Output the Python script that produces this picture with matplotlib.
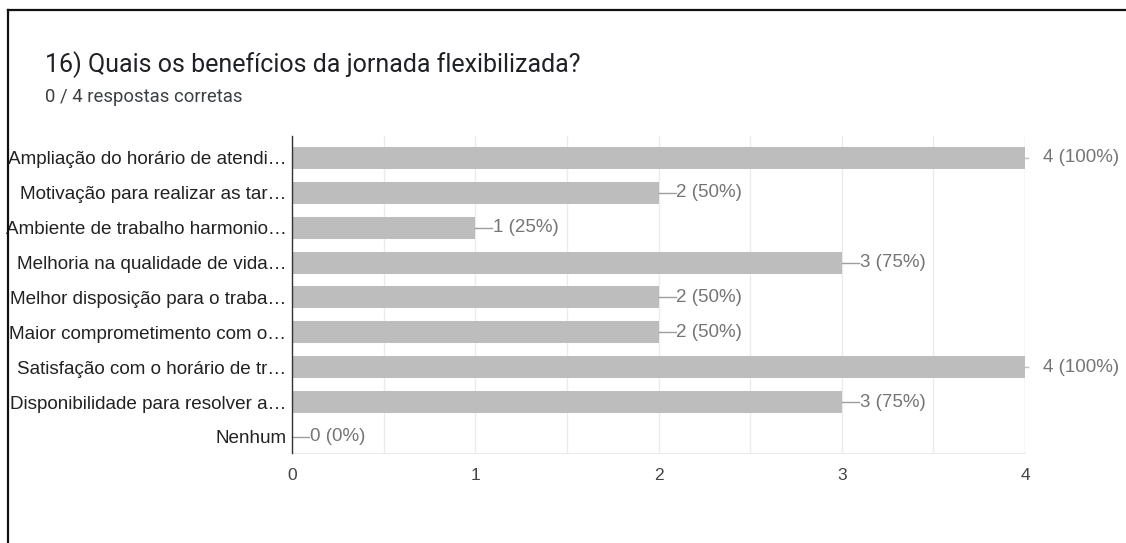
import matplotlib
matplotlib.use("Agg")
import matplotlib.pyplot as plt
from matplotlib.lines import Line2D
import numpy as np

title = "16) Quais os benefícios da jornada flexibilizada?"
subtitle = "0 / 4 respostas corretas"
categories = [
    "Ampliação do horário de atendi…",
    "Motivação para realizar as tar…",
    "Ambiente de trabalho harmonio…",
    "Melhoria na qualidade de vida…",
    "Melhor disposição para o traba…",
    "Maior comprometimento com o…",
    "Satisfação com o horário de tr…",
    "Disponibilidade para resolver a…",
    "Nenhum",
]
counts = [4, 2, 1, 3, 2, 2, 4, 3, 0]
percents = [100, 50, 25, 75, 50, 50, 100, 75, 0]
xticks = [0, 1, 2, 3, 4]

fig = plt.figure(figsize=(11.26, 5.43), dpi=100)
fig.patch.set_facecolor("white")
W, H = 1126, 543
ax = fig.add_axes([292 / W, 1 - 453 / H, (1025 - 292) / W, (453 - 136) / H])

y = np.arange(len(categories))
ax.barh(y, counts, height=0.63, color="#bdbdbd", zorder=2)
ax.set_xlim(0, 4)
ax.set_ylim(8.46, -0.63)
ax.set_yticks(y)
ax.set_yticklabels(categories, fontsize=13.6, color="#222222", family="Liberation Sans")
ax.set_xticks(xticks)
ax.set_xticklabels([str(t) for t in xticks], fontsize=12.5, color="#444444", family="Liberation Sans")
ax.set_xticks(np.arange(0, 4.01, 0.5), minor=True)
ax.grid(True, axis="x", which="both", color="#ebebeb", linewidth=1, zorder=0)
ax.tick_params(axis="both", which="both", length=0)
ax.tick_params(axis="y", pad=4)
ax.tick_params(axis="x", pad=11)
for s in ["top", "right"]:
    ax.spines[s].set_visible(False)
ax.spines["bottom"].set_color("#ebebeb")
ax.spines["left"].set_color("#333333")
ax.spines["left"].set_linewidth(1)
ax.spines["left"].set_zorder(3)
ax.plot([4, 4], [-0.63, 8.46], color="#ebebeb", lw=1, zorder=0)

px = 4 / (1025 - 292)  # data units per pixel
maxv = max(counts)
for i, (c, p) in enumerate(zip(counts, percents)):
    dx = 18 * px
    if c < maxv:
        ax.plot([c, c + dx - 1 * px], [i, i], color="#9e9e9e", lw=1, clip_on=False, zorder=3)
    else:
        ax.plot([c, c + 3 * px], [i, i], color="#bdbdbd", lw=1, clip_on=False, zorder=3)
    ax.text(c + dx, i, f"{c} ({p}%)", va="center", ha="left", fontsize=13.5,
            color="#757575", family="Liberation Sans", clip_on=False)

fig.text(45 / W, 1 - 65 / H, title, fontsize=18, color="#202124", family="Roboto",
         va="center", ha="left")
fig.text(45 / W, 1 - 97 / H, subtitle, fontsize=13.3, color="#3c4043", family="Roboto",
         va="center", ha="left")

fig.add_artist(Line2D([8 / W, 8 / W], [0, 1 - 10 / H], color="#111111", lw=1.6,
                      transform=fig.transFigure))
fig.add_artist(Line2D([8 / W, 1], [1 - 10 / H, 1 - 10 / H], color="#111111", lw=1.6,
                      transform=fig.transFigure))

fig.savefig("out.png", dpi=100)
